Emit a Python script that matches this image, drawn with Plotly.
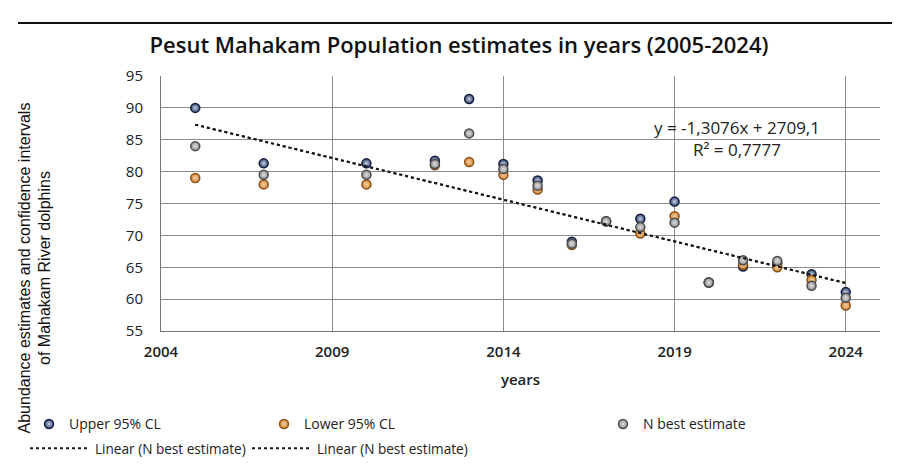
import numpy as np
import plotly.graph_objects as go

# ---- data ----
years = [2005, 2007, 2010, 2012, 2013, 2014, 2015, 2016, 2017, 2018, 2019, 2020, 2021, 2022, 2023, 2024]
upper = [90.0, 81.3, 81.3, 81.7, 91.4, 81.2, 78.6, 69.0, 72.2, 72.6, 75.3, 62.6, 65.1, 65.6, 63.9, 61.1]
lower = [79.0, 78.0, 78.0, 81.0, 81.5, 79.5, 77.2, 68.5, 72.2, 70.3, 73.0, 62.6, 65.4, 65.0, 63.0, 59.0]
best = [84.0, 79.5, 79.5, 81.2, 86.0, 80.4, 77.8, 68.7, 72.2, 71.3, 72.0, 62.6, 66.1, 66.0, 62.1, 60.2]
trend_slope = -1.3076
trend_intercept = 2709.1
r_squared = 0.7777
x_ticks = [2004, 2009, 2014, 2019, 2024]
y_ticks = [55, 60, 65, 70, 75, 80, 85, 90, 95]

W, H = 900, 468
L, R, T, B = 153, 28, 68, 135
pw, ph = W - L - R, H - T - B


def px_x(p):
    return (p - L) / pw


def px_y(p):
    return (H - B - p) / ph


fig = go.Figure()

series = [
    ("Upper 95% CL", upper, "#34497a", "#16203d", "legend", "#c8d0dc"),
    ("Lower 95% CL", lower, "#d98a35", "#8a531c", "legend2", "#f0d0a8"),
    ("N best estimate", best, "#8e8e8e", "#4d4d4d", "legend3", "#e0e0e0"),
]
for name, vals, fill, edge, lg, hi in series:
    fig.add_trace(go.Scatter(
        x=years, y=vals, mode="markers", name=name, legend=lg,
        marker=dict(size=9, color=fill, line=dict(color=edge, width=1.5),
                    gradient=dict(type="radial", color=hi)),
    ))

trend_x = np.array([years[0], years[-1]], dtype=float)
trend_y = trend_slope * trend_x + trend_intercept
for lg in ("legend4", "legend5"):
    fig.add_trace(go.Scatter(
        x=trend_x, y=trend_y, mode="lines", name="Linear (N best estimate)", legend=lg,
        line=dict(color="#1a1a1a", width=2, dash="dot"),
    ))

legend_font = dict(family="Open Sans, sans-serif", size=14, color="#222222")
base_leg = dict(font=legend_font, bgcolor="rgba(0,0,0,0)", xanchor="left", yanchor="middle",
                orientation="h")
layout_legends = {
    "legend": dict(base_leg, x=px_x(21), y=px_y(430)),
    "legend2": dict(base_leg, x=px_x(256), y=px_y(430)),
    "legend3": dict(base_leg, x=px_x(595), y=px_y(430)),
    "legend4": dict(base_leg, x=px_x(17), y=px_y(455), itemwidth=60,
                    font=dict(legend_font, size=13.6)),
    "legend5": dict(base_leg, x=px_x(239), y=px_y(455), itemwidth=60,
                    font=dict(legend_font, size=13.6)),
}

fig.update_layout(
    width=W, height=H,
    margin=dict(l=L, r=R, t=T, b=B),
    paper_bgcolor="white", plot_bgcolor="white",
    showlegend=True,
    title=dict(text="Pesut Mahakam Population estimates in years (2005-2024)",
               x=px_x(451), xref="paper", xanchor="center", y=1 - 37 / H, yanchor="middle",
               font=dict(family="Open Sans, sans-serif", size=22, color="#111111", weight=600)),
    xaxis=dict(range=[2004, 2025], tickvals=x_ticks, ticktext=[str(v) for v in x_ticks],
               showgrid=True, gridcolor="#8c8c8c", gridwidth=1,
               showline=True, linecolor="#777777", linewidth=1, zeroline=False,
               ticks="", ticklabelstandoff=7,
               tickfont=dict(family="Open Sans, sans-serif", size=15, color="#222222", weight=600),
               title=dict(text="years", standoff=14,
                          font=dict(family="Open Sans, sans-serif", size=15, color="#222222", weight=600))),
    yaxis=dict(range=[55, 95], tickvals=y_ticks, showgrid=True, gridcolor="#8c8c8c", gridwidth=1,
               showline=True, linecolor="#777777", linewidth=1, zeroline=False, ticks="",
               ticklabelstandoff=14,
               tickfont=dict(family="Open Sans, sans-serif", size=15, color="#222222")),
    **layout_legends,
)

fig.add_annotation(
    text="Abundance estimates and confidence intervals<br>of Mahakam River dolphins",
    xref="paper", yref="paper", x=px_x(27), y=px_y(268), showarrow=False, textangle=-90,
    xanchor="center", yanchor="middle",
    font=dict(family="Liberation Sans Narrow, Arial Narrow, sans-serif", size=16, color="#111111"),
)
fig.add_annotation(
    text=f"y = {str(trend_slope).replace('.', ',')}x + {str(trend_intercept).replace('.', ',')}<br>R² = {str(r_squared).replace('.', ',')}",
    xref="paper", yref="paper", x=px_x(729), y=px_y(133), showarrow=False,
    xanchor="center", yanchor="middle",
    font=dict(family="Open Sans, sans-serif", size=17, color="#222222"),
)
fig.add_shape(type="line", xref="paper", yref="paper",
              x0=px_x(10), x1=px_x(900), y0=px_y(13), y1=px_y(13),
              line=dict(color="#111111", width=2))

fig.write_html("out.html")
